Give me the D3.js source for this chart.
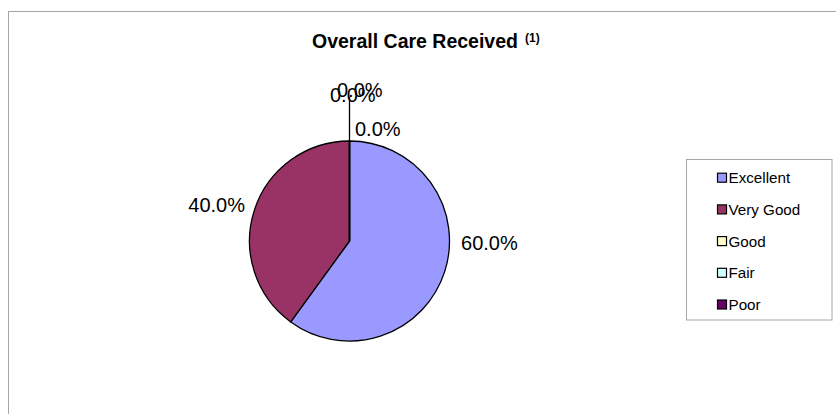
<!DOCTYPE html>
<html>
<head>
<meta charset="utf-8">
<script src="https://cdn.jsdelivr.net/npm/d3@7"></script>
<style>
  body { margin: 0; background: #fff; }
  text { font-family: "Liberation Sans", Arial, sans-serif; fill: #000; }
</style>
</head>
<body>
<svg id="chart" width="836" height="414"></svg>
<script>
const categories = ["Excellent", "Very Good", "Good", "Fair", "Poor"];
const percents = [60, 40, 0, 0, 0];
const colors = ["#9999ff", "#993366", "#ffffcc", "#ccffff", "#660066"];
const title = "Overall Care Received";
const titleNote = "(1)";

const center = { x: 349.5, y: 241 };
const radius = 100;
const labelGap = 12;

// nudges so labels sit where the spreadsheet's best-fit put them
const labelShift = {
  Excellent: [5, -26],
  "Very Good": [2, 6],
  Good: [5.5, 7],
  Fair: [-12.5, -32],
  Poor: [-19.5, -27]
};

const svg = d3.select("#chart");

// outer chart border (only top/left visible inside the frame)
svg.append("rect")
  .attr("x", 8.5).attr("y", 11.5)
  .attr("width", 900).attr("height", 500)
  .attr("fill", "none")
  .attr("stroke", "#a6a6a6")
  .attr("stroke-width", 1);

const titleText = svg.append("text")
  .attr("x", 312)
  .attr("y", 48)
  .attr("font-size", 19.5)
  .attr("font-weight", "bold")
  .text(title);

titleText.append("tspan")
  .attr("dx", 7)
  .attr("dy", -6)
  .attr("font-size", 12)
  .text(titleNote);

const pie = d3.pie().sort(null).value(d => d);
const arcs = pie(percents);
const arc = d3.arc().innerRadius(0).outerRadius(radius);

const g = svg.append("g")
  .attr("transform", `translate(${center.x},${center.y})`);

g.selectAll("path.slice")
  .data(arcs)
  .enter()
  .append("path")
  .attr("class", "slice")
  .attr("d", arc)
  .attr("fill", (d, i) => colors[i])
  .attr("stroke", "#000")
  .attr("stroke-width", 1.3)
  .attr("stroke-linejoin", "round");

// leader line for the zero-value slices
g.append("line")
  .attr("x1", 0).attr("y1", -radius)
  .attr("x2", 0).attr("y2", -radius - 44)
  .attr("stroke", "#000")
  .attr("stroke-width", 1.3);

const formatPct = v => v.toFixed(1) + "%";

g.selectAll("text.label")
  .data(arcs)
  .enter()
  .append("text")
  .attr("class", "label")
  .attr("font-size", 20)
  .attr("text-anchor", d => {
    const mid = (d.startAngle + d.endAngle) / 2;
    return d.value > 0 && mid > Math.PI ? "end" : "start";
  })
  .attr("x", (d, i) => {
    const mid = (d.startAngle + d.endAngle) / 2;
    return (radius + labelGap) * Math.sin(mid) + labelShift[categories[i]][0];
  })
  .attr("y", (d, i) => {
    const mid = (d.startAngle + d.endAngle) / 2;
    return -(radius + labelGap) * Math.cos(mid) + labelShift[categories[i]][1];
  })
  .text(d => formatPct(d.value));

// legend
const legend = svg.append("g");

legend.append("rect")
  .attr("x", 686.5).attr("y", 159.5)
  .attr("width", 145.5).attr("height", 160.5)
  .attr("fill", "#fff")
  .attr("stroke", "#a6a6a6")
  .attr("stroke-width", 1);

const rowY = d3.scalePoint()
  .domain(categories)
  .range([177.7, 304.5]);

const rows = legend.selectAll("g.row")
  .data(categories)
  .enter()
  .append("g")
  .attr("class", "row")
  .attr("transform", d => `translate(717,${rowY(d)})`);

rows.append("rect")
  .attr("x", 0.5).attr("y", -4.5)
  .attr("width", 9).attr("height", 9)
  .attr("fill", (d, i) => colors[i])
  .attr("stroke", "#000")
  .attr("stroke-width", 1.2);

rows.append("text")
  .attr("x", 11.5)
  .attr("dy", "0.36em")
  .attr("font-size", 15.2)
  .text(d => d);
</script>
</body>
</html>
